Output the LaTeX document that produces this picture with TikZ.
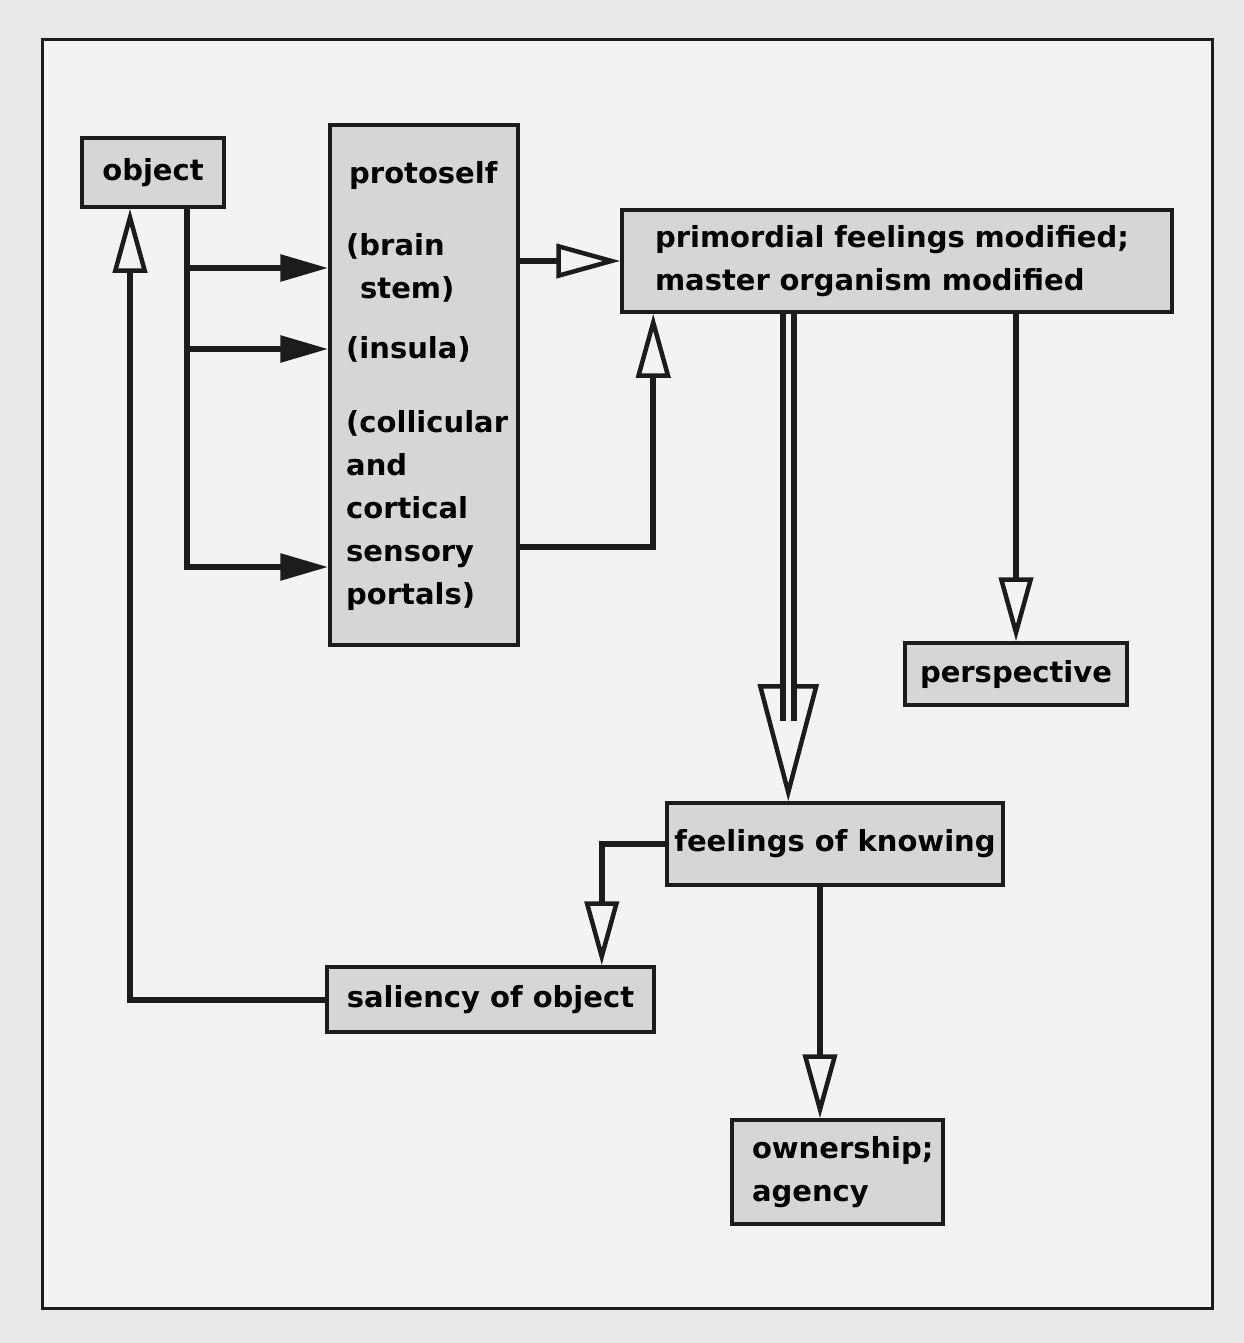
\documentclass[tikz,border=0pt]{standalone}
\usepackage{fontspec}
\setmainfont{DejaVu Sans}
\usetikzlibrary{arrows.meta}
\definecolor{ink}{HTML}{1C1C1C}
\definecolor{boxfill}{HTML}{D6D6D6}
\definecolor{paper}{HTML}{E9E9E9}
\definecolor{panel}{HTML}{F3F3F3}
\tikzset{
  box/.style={draw=ink, line width=3.5pt, fill=boxfill, inner sep=0pt,
    font=\fontsize{29}{43}\selectfont\bfseries},
  lbl/.style={anchor=west, inner sep=0pt, align=left,
    font=\fontsize{29}{43}\selectfont\bfseries},
  feed/.style={draw=ink, line width=6pt, -{Triangle[length=48pt, width=26pt]}},
  lead/.style={draw=ink, line width=6pt,
    -{Triangle[open, length=64pt, width=34pt, line width=4.5pt]}},
  dbl/.style={draw=ink, line width=6pt, double=panel, double distance=5pt},
}

\begin{document}
\begin{tikzpicture}[x=1pt, y=-1pt]
  % page and frame
  \fill[paper] (0,0) rectangle (1244,1343);
  \draw[ink, line width=3pt, fill=panel] (42,40) rectangle (1212,1308);

  % boxes
  \node[box, minimum width=142pt, minimum height=69pt] (object) at (153,172.5) {object};
  \node[box, minimum width=188pt, minimum height=520pt] (proto) at (424,385) {};
  \node[lbl] (ptitle) at (349,175) {protoself};
  \node[lbl] (brain) at (346,268) {(brain\\\hspace*{14pt}stem)};
  \node[lbl] (insula) at (346,349) {(insula)};
  \node[lbl] (portals) at (346,510) {(collicular\\and\\cortical\\sensory\\portals)};
  \node[box, minimum width=550pt, minimum height=102pt, text width=484pt, align=left]
    (primal) at (897,261) {primordial feelings modified;\\master organism modified};
  \node[box, minimum width=222pt, minimum height=62pt] (persp) at (1016,674) {perspective};
  \node[box, minimum width=336pt, minimum height=82pt] (fok) at (835,844) {feelings of knowing};
  \node[box, minimum width=327pt, minimum height=65pt] (sal) at (490.5,999.5) {saliency of object};
  \node[box, minimum width=211pt, minimum height=104pt, text width=171pt, align=left]
    (own) at (837.5,1172) {ownership;\\agency};

  % object to protoself
  \draw[feed] ([xshift=34pt]object.south) |- (proto.west |- brain);
  \draw[feed] ([xshift=34pt]object.south) |- (proto.west |- insula);
  \draw[feed] ([xshift=34pt]object.south) |- (proto.west |- 0,567);

  % protoself to primordial feelings
  \draw[lead] (proto.east |- primal.west) -- (primal.west);
  \draw[lead] (proto.east |- 0,547) -| ([xshift=33pt]primal.south west);

  % double arrow down to feelings of knowing
  \coordinate (dtop) at ([xshift=168pt]primal.south west);
  \coordinate (dtip) at (dtop |- fok.north);
  \draw[ink, line width=4.5pt, fill=panel] ([yshift=9pt]dtip) -- ++(-28,-106) -- ++(56,0) -- cycle;
  \draw[dbl] (dtop) -- ([yshift=80pt]dtip);

  \draw[lead] (primal.south -| persp.north) -- (persp.north);
  \draw[lead] (fok.west) -| ([xshift=-54pt]sal.north east);
  \draw[lead] ([xshift=-15pt]fok.south) -- ([xshift=-15pt]fok.south |- own.north);
  \draw[lead] (sal.west) -| ([xshift=-23pt]object.south);
\end{tikzpicture}
\end{document}
